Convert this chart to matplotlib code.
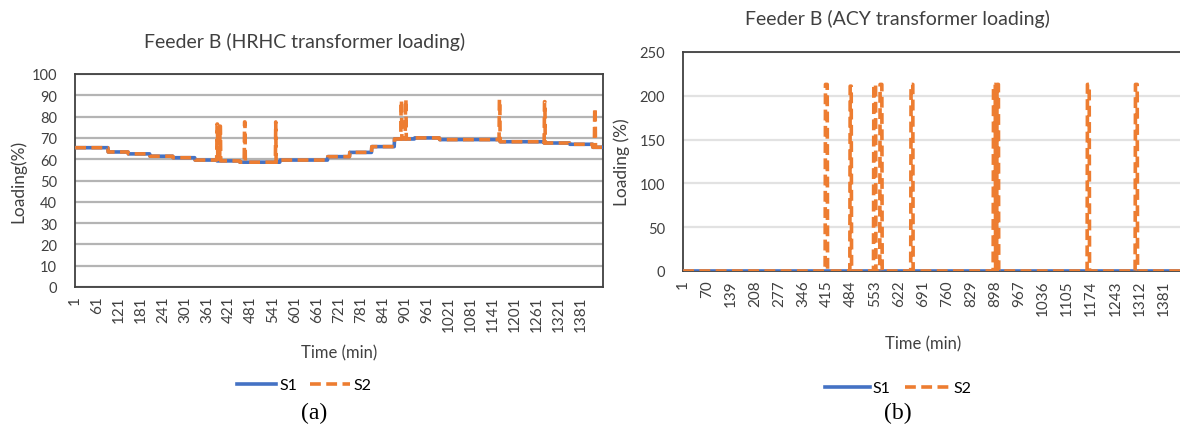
import numpy as np
import matplotlib
matplotlib.use('Agg')
import matplotlib.pyplot as plt
from matplotlib.lines import Line2D

plt.rcParams['font.family'] = ['Lato', 'DejaVu Sans']

minutes = np.arange(1, 1441)

# (a) HRHC transformer: S1 step levels (start minute, loading %)
hrhc_s1_start = [1, 91, 146, 205, 268, 328, 388, 450, 560, 690, 750, 810, 872, 927, 995, 1160, 1280, 1350, 1413]
hrhc_s1_level = [65.4, 63.4, 62.5, 61.4, 60.7, 59.6, 59.2, 58.6, 59.6, 61.2, 63.2, 65.9, 69.5, 70.0, 69.2, 68.2, 67.6, 67.0, 65.6]
# S2 spikes (start minute, duration, loading %)
hrhc_spike_start = [388, 396, 463, 548, 890, 902, 1158, 1281, 1418]
hrhc_spike_len = [2, 2, 2, 1, 2, 2, 2, 2, 2]
hrhc_spike_level = [76.5, 75.5, 77.5, 77.5, 87.5, 88.0, 88.0, 87.0, 84.0]

# (b) ACY transformer: S1 flat, S2 spikes
acy_s1_start = [1]
acy_s1_level = [0.0]
acy_spike_start = [410, 481, 549, 567, 656, 893, 903, 1163, 1301]
acy_spike_len = [6, 4, 6, 6, 6, 6, 5, 6, 6]
acy_spike_level = [213, 211, 213, 213, 213, 213, 213, 213, 213]

hrhc_ticks = list(range(1, 1441, 60))
acy_ticks = list(range(1, 1441, 69))


def build_series(starts, levels, sp_start, sp_len, sp_level):
    counts = np.diff(starts + [1441])
    s1 = np.repeat(np.array(levels, dtype=float), counts)
    s2 = s1.copy()
    for st, ln, lv in zip(sp_start, sp_len, sp_level):
        s2[st - 1:st - 1 + ln] = lv
    return s1, s2


BLUE = '#4472C4'
ORANGE = '#ED7D31'
TXT = '#404040'

fig = plt.figure(figsize=(11.8, 4.31), dpi=100)
ax1 = fig.add_axes([75 / 1180, 1 - 288 / 431, 528 / 1180, 213 / 431])
ax2 = fig.add_axes([683 / 1180, 1 - 272 / 431, 501 / 1180, 219 / 431])


def draw_panel(ax, s1, s2, ticks, ymax, ystep, grid_color, ylabel):
    ax.plot(minutes, s1, color=BLUE, lw=2.6, zorder=3)
    ax.plot(minutes, s2, color=ORANGE, lw=2.6, ls=(0, (3, 1.5)), zorder=4)
    ax.set_xlim(0.5, 1440.5)
    ax.set_ylim(0, ymax)
    ax.set_yticks(np.arange(0, ymax + 1, ystep))
    ax.set_xticks(ticks)
    ax.set_xticklabels([str(t) for t in ticks], rotation=90, fontsize=11, color=TXT)
    ax.tick_params(axis='y', labelsize=10.5, colors=TXT, length=0, pad=13)
    ax.tick_params(axis='x', length=0, pad=6)
    ax.grid(axis='y', color=grid_color, lw=1.6)
    ax.set_axisbelow(True)
    for sp in ax.spines.values():
        sp.set_color(TXT)
        sp.set_linewidth(1.3)
    ax.set_xlabel('Time (min)', fontsize=12, color=TXT)
    ax.set_ylabel(ylabel, fontsize=12.5, color=TXT)


s1a, s2a = build_series(hrhc_s1_start, hrhc_s1_level, hrhc_spike_start, hrhc_spike_len, hrhc_spike_level)
s1b, s2b = build_series(acy_s1_start, acy_s1_level, acy_spike_start, acy_spike_len, acy_spike_level)

draw_panel(ax1, s1a, s2a, hrhc_ticks, 100, 10, '#b4b4b4', 'Loading(%)')
draw_panel(ax2, s1b, s2b, acy_ticks, 250, 50, '#e2e2e2', 'Loading (%)')

fig.text(305 / 1180, 1 - 42 / 431, 'Feeder B (HRHC transformer loading)',
         ha='center', va='center', fontsize=14, color=TXT)
fig.text(897 / 1180, 1 - 19 / 431, 'Feeder B (ACY transformer loading)',
         ha='center', va='center', fontsize=14, color=TXT)

ax1.yaxis.set_label_coords(-0.093, 0.5)
ax2.yaxis.set_label_coords(-0.106, 0.5)
ax1.xaxis.set_label_coords(0.5, -0.268)
ax2.xaxis.set_label_coords(0.48, -0.292)

handles = [Line2D([], [], color=BLUE, lw=2.6),
           Line2D([], [], color=ORANGE, lw=2.6, ls=(0, (3, 1.5)))]
fig.legend(handles, ['S1', 'S2'], loc='center', bbox_to_anchor=(304 / 1180, 1 - 386 / 431),
           ncol=2, frameon=False, fontsize=11.5, handlelength=2.5, columnspacing=0.8, handletextpad=0.2)
fig.legend(handles, ['S1', 'S2'], loc='center', bbox_to_anchor=(898 / 1180, 1 - 389 / 431),
           ncol=2, frameon=False, fontsize=11.5, handlelength=2.8, columnspacing=0.9, handletextpad=0.2)

fig.text(314 / 1180, 1 - 413 / 431, '(a)', ha='center', va='center',
         fontsize=17, family='Liberation Serif')
fig.text(898 / 1180, 1 - 413 / 431, '(b)', ha='center', va='center',
         fontsize=17, family='Liberation Serif')

fig.savefig('out.png', dpi=100, facecolor='white')
